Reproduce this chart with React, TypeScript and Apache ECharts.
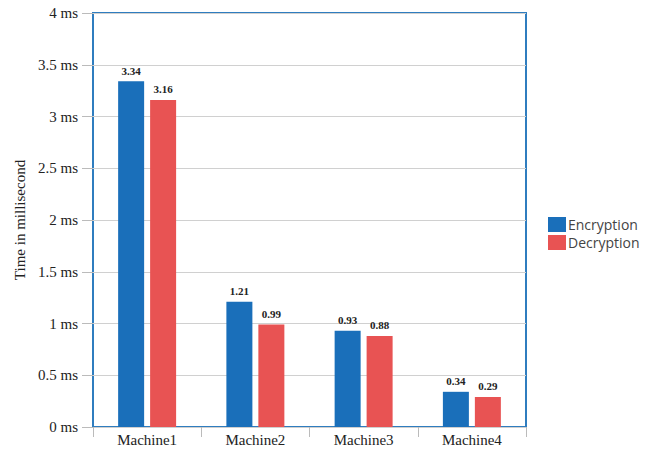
import React, { useEffect, useRef } from "react";
import * as echarts from "echarts";

const categories = ["Machine1", "Machine2", "Machine3", "Machine4"];
const encryption = [3.34, 1.21, 0.93, 0.34];
const decryption = [3.16, 0.99, 0.88, 0.29];
const seriesNames = ["Encryption", "Decryption"];

export default function App() {
  const ref = useRef<HTMLDivElement>(null);
  useEffect(() => {
    const chart = echarts.init(ref.current!, null, { renderer: "svg" });
    const labelCfg = {
      show: true,
      position: "top",
      distance: 5,
      fontFamily: "Liberation Serif",
      fontWeight: "bold",
      fontSize: 11,
      color: "#222",
      formatter: (p: any) => p.value.toFixed(2),
    };
    chart.setOption({
      animation: false,
      backgroundColor: "#fff",
      grid: {
        left: 93,
        right: 123,
        top: 13,
        bottom: 27,
        show: true,
        borderColor: "#2f7dbf",
        borderWidth: 2,
        backgroundColor: "transparent",
      },
      legend: {
        orient: "vertical",
        left: 543,
        top: 212,
        itemWidth: 18,
        itemHeight: 15,
        itemGap: 3,
        icon: "rect",
        textStyle: { fontFamily: "Open Sans", fontSize: 14, color: "#444", padding: [0, 0, 0, -3] },
        data: seriesNames,
      },
      xAxis: {
        type: "category",
        data: categories,
        axisLine: { show: false },
        axisTick: { show: true, length: 10, lineStyle: { color: "#bbb" } },
        axisLabel: { fontFamily: "Liberation Serif", fontSize: 15, color: "#222", margin: 5 },
      },
      yAxis: {
        type: "value",
        min: 0,
        max: 4,
        interval: 0.5,
        name: "Time in millisecond",
        nameLocation: "middle",
        nameGap: 66,
        nameTextStyle: { fontFamily: "Liberation Serif", fontSize: 15, color: "#222" },
        axisLine: { show: false },
        axisTick: { show: true, length: 11, lineStyle: { color: "#bbb" } },
        splitLine: { lineStyle: { color: "#d0d0d0" } },
        axisLabel: {
          fontFamily: "Liberation Serif",
          fontSize: 15,
          color: "#222",
          margin: 15,
          formatter: (v: number) => v + " ms",
        },
      },
      series: [
        {
          name: seriesNames[0],
          type: "bar",
          data: encryption,
          barWidth: 26,
          barGap: "23%",
          itemStyle: { color: "#1a6fba" },
          label: labelCfg,
        },
        {
          name: seriesNames[1],
          type: "bar",
          data: decryption,
          barWidth: 26,
          itemStyle: { color: "#e85353" },
          label: labelCfg,
        },
      ],
    });
    return () => chart.dispose();
  }, []);
  return <div ref={ref} style={{ width: 649, height: 454, margin: -8 }} />;
}
